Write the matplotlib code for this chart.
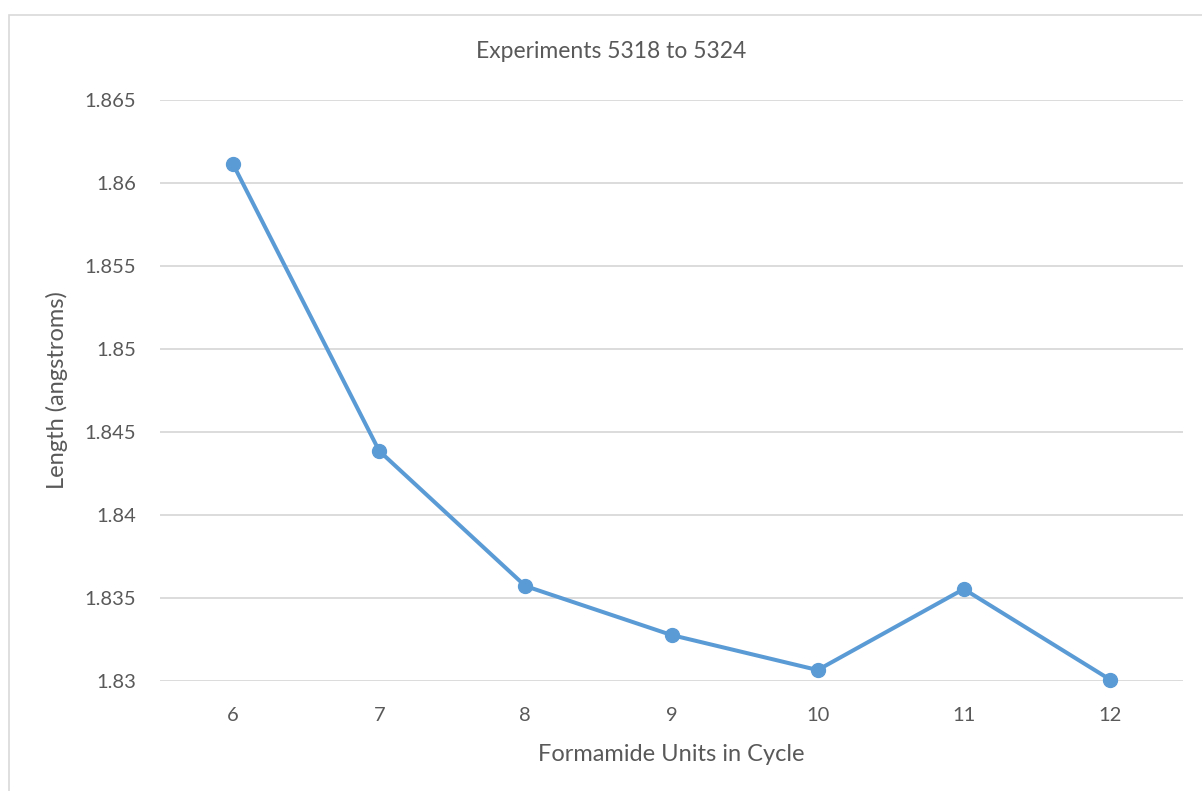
import matplotlib.pyplot as plt
from matplotlib.patches import Rectangle

units = [6, 7, 8, 9, 10, 11, 12]
length = [1.86113, 1.84386, 1.83572, 1.83277, 1.83066, 1.83554, 1.83009]
yticks = [1.83, 1.835, 1.84, 1.845, 1.85, 1.855, 1.86, 1.865]
ytick_labels = ['1.83', '1.835', '1.84', '1.845', '1.85', '1.855', '1.86', '1.865']

plt.rcParams['font.family'] = ['Lato', 'DejaVu Sans']
txt = '#595959'

fig = plt.figure(figsize=(12.02, 7.91), dpi=100)
W, H = 1202, 791
ax = fig.add_axes([160 / W, 1 - 681 / H, (1183 - 160) / W, (681 - 100) / H])

# chart area border (runs off the right/bottom of the image)
fig.patches.append(Rectangle((8.5 / W, -0.1), 1.2, 1 - 14.5 / H + 0.1,
                             transform=fig.transFigure, fill=False,
                             edgecolor='#D9D9D9', linewidth=1.2))

ax.plot(units, length, color='#5B9BD5', linewidth=2.9, marker='o',
        markersize=10, zorder=3, clip_on=False)

ax.set_xlim(5.5, 12.5)
ax.set_ylim(1.83, 1.865)
ax.set_xticks(units)
ax.set_xticklabels([str(u) for u in units])
ax.set_yticks(yticks)
ax.set_yticklabels(ytick_labels)
ax.grid(axis='y', color='#D9D9D9', linewidth=1.3)
ax.set_axisbelow(True)
for s in ['top', 'right', 'left', 'bottom']:
    ax.spines[s].set_visible(False)
ax.tick_params(axis='both', length=0, labelsize=14.5, colors=txt)
ax.tick_params(axis='y', pad=17)
ax.tick_params(axis='x', pad=19)

ax.set_xlabel('Formamide Units in Cycle', fontsize=17, color=txt, labelpad=14)
ax.set_ylabel('Length (angstroms)', fontsize=17, color=txt, labelpad=12)
fig.text(611 / W, 1 - 52 / H, 'Experiments 5318 to 5324',
         ha='center', va='center', fontsize=16.5, color=txt)

fig.savefig('out.png', dpi=100, facecolor='white')
